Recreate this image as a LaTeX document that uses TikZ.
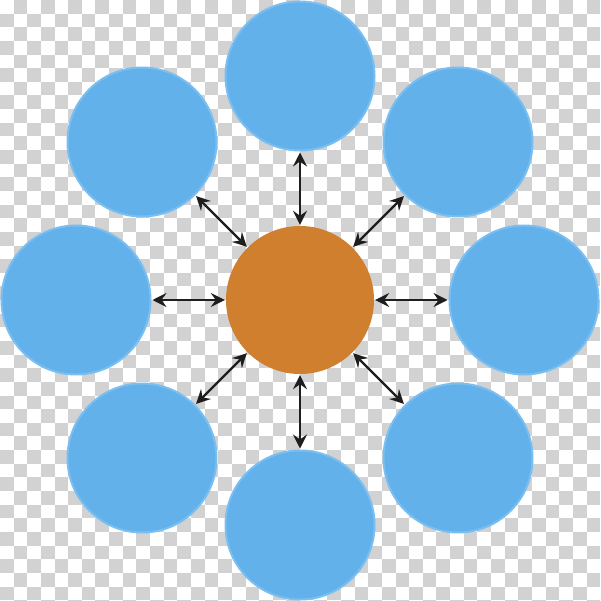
\documentclass[tikz,border=0pt]{standalone}
\usetikzlibrary{arrows.meta}
\definecolor{checkgray}{HTML}{D2D2D2}
\definecolor{bubbleblue}{HTML}{63B1EA}
\definecolor{bubbleedge}{HTML}{7ABFF0}
\definecolor{hubbrown}{HTML}{D07F2E}
\definecolor{arrowgray}{HTML}{1E1E1E}
\begin{document}
\begin{tikzpicture}[x=1pt, y=-1pt,
    satellite/.style ={circle, fill=bubbleblue, draw=bubbleedge, line width=2pt, minimum size=149pt, inner sep=0pt},
    core/.style ={circle, fill=hubbrown, minimum size=148pt, inner sep=0pt},
    link/.style ={draw=arrowgray, line width=2.4pt, {Stealth[length=14pt,width=14pt,inset=5pt]}-{Stealth[length=14pt,width=14pt,inset=5pt]}, shorten <=1pt, shorten >=1pt}]
   % checkered background
   \useasboundingbox (0,0) rectangle (600,601);
   \begin{scope}
     \clip (0,0) rectangle (600,601);
     \fill[white] (0,0) rectangle (600,601);
     \foreach \i in {0,...,43}
       \foreach \j in {0,...,44} {
         \pgfmathtruncatemacro\s{\i+\j}
         \ifodd\s \fill[checkgray] (13.64*\i,13.64*\j) rectangle ++(13.64,13.64); \fi
       }
   \end{scope}
   \node[core] (hub) at (300,300) {};
   \node[satellite] (n) at (300,76) {};
   \node[satellite] (ne) at (458,142) {};
   \node[satellite] (e) at (524,300) {};
   \node[satellite] (se) at (458,458) {};
   \node[satellite] (s) at (300,525) {};
   \node[satellite] (sw) at (142,458) {};
   \node[satellite] (w) at (76,300) {};
   \node[satellite] (nw) at (142,142) {};
   \draw[link] (hub) to (n);
   \draw[link] (hub) to (ne);
   \draw[link] (hub) to (e);
   \draw[link] (hub) to (se);
   \draw[link] (hub) to (s);
   \draw[link] (hub) to (sw);
   \draw[link] (hub) to (w);
   \draw[link] (hub) to (nw);
\end{tikzpicture}
\end{document}
